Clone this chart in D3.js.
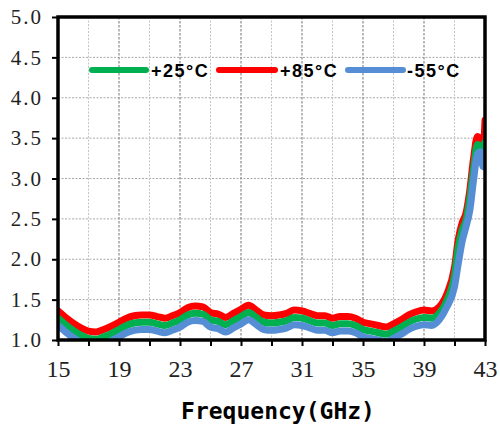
<!DOCTYPE html>
<html><head><meta charset="utf-8">
<script src="https://cdn.jsdelivr.net/npm/d3@7"></script>
<style>body{margin:0;background:#fff}svg{display:block}</style>
</head><body>
<svg id="c" width="500" height="425"></svg>
<script>
const freq = [15,15.5,16,16.5,17,17.5,18,18.5,19,19.5,20,20.5,21,21.5,22,22.5,23,23.5,24,24.5,25,25.5,26,26.5,27,27.5,28,28.5,29,29.5,30,30.5,31,31.5,32,32.5,33,33.5,34,34.5,35,35.5,36,36.5,37,37.5,38,38.5,39,39.5,40,40.5,41,41.25,41.5,41.75,42,42.25,42.5,42.7,42.85,43];
const red = [1.36,1.28,1.21,1.15,1.11,1.10,1.13,1.17,1.22,1.27,1.30,1.31,1.31,1.29,1.27,1.30,1.34,1.40,1.42,1.41,1.34,1.32,1.28,1.33,1.38,1.43,1.37,1.31,1.30,1.31,1.33,1.37,1.36,1.33,1.30,1.30,1.27,1.29,1.29,1.27,1.22,1.20,1.18,1.16,1.20,1.25,1.31,1.35,1.37,1.36,1.41,1.57,1.90,2.25,2.45,2.57,2.85,3.25,3.52,3.47,3.30,3.72];
const green = [1.27,1.19,1.12,1.06,1.02,1.01,1.04,1.08,1.13,1.18,1.21,1.22,1.22,1.20,1.18,1.21,1.25,1.31,1.33,1.32,1.25,1.23,1.19,1.24,1.29,1.34,1.28,1.22,1.21,1.22,1.24,1.28,1.27,1.24,1.21,1.21,1.18,1.20,1.20,1.18,1.13,1.11,1.09,1.07,1.11,1.16,1.22,1.26,1.28,1.27,1.33,1.49,1.80,2.15,2.36,2.48,2.75,3.12,3.42,3.40,3.22,3.45];
const blue = [1.18,1.10,1.03,0.97,0.93,0.92,0.95,0.99,1.04,1.09,1.12,1.13,1.13,1.11,1.09,1.12,1.16,1.22,1.24,1.23,1.16,1.14,1.10,1.15,1.20,1.25,1.19,1.13,1.12,1.13,1.15,1.19,1.18,1.15,1.12,1.12,1.09,1.11,1.11,1.09,1.04,1.02,1.00,0.98,1.02,1.07,1.13,1.17,1.19,1.18,1.25,1.41,1.66,1.95,2.22,2.40,2.60,2.98,3.30,3.33,3.15,3.14];
const xTicks = [15,19,23,27,31,35,39,43];
const xMinor = [17,21,25,29,33,37,41];
const yTicks = [1.0,1.5,2.0,2.5,3.0,3.5,4.0,4.5,5.0];
const seriesNames = ["+25°C","+85°C","-55°C"];
const seriesColors = ["#00b050","#ff0000","#558ed5"];

const svg = d3.select("#c");
const L=58,R=485,T=17,B=340;
const x = d3.scaleLinear().domain([15,43]).range([L,R]);
const y = d3.scaleLinear().domain([1,5]).range([B,T]);

// grid
const g = svg.append("g");
g.selectAll(".hg").data(yTicks.slice(1,-1)).join("line")
  .attr("x1",L).attr("x2",R).attr("y1",d=>y(d)).attr("y2",d=>y(d))
  .attr("stroke","#a8a8a8").attr("stroke-width",1).attr("stroke-dasharray","2,1.5");
g.selectAll(".vg").data(xMinor).join("line")
  .attr("x1",d=>x(d)).attr("x2",d=>x(d)).attr("y1",T).attr("y2",B)
  .attr("stroke","#c4c4c4").attr("stroke-width",1).attr("stroke-dasharray","2,1.5");
g.selectAll(".vG").data(xTicks.slice(1,-1)).join("line")
  .attr("x1",d=>x(d)).attr("x2",d=>x(d)).attr("y1",T).attr("y2",B)
  .attr("stroke","#8a8a8a").attr("stroke-width",1.2).attr("stroke-dasharray","2.5,1.5");

// clip
svg.append("clipPath").attr("id","pc").append("rect")
  .attr("x",L).attr("y",T).attr("width",R-L).attr("height",B-T);

const line = d3.line().x((d,i)=>x(freq[i])).y(d=>y(d)).curve(d3.curveMonotoneX);
const lines = svg.append("g").attr("clip-path","url(#pc)");
[[red,1],[green,0],[blue,2]].forEach(([arr,ci])=>{
  lines.append("path").attr("d",line(arr)).attr("fill","none")
    .attr("stroke",seriesColors[ci]).attr("stroke-width",7)
    .attr("stroke-linejoin","round").attr("stroke-linecap","round");
});

// axes
const ya = svg.append("g").attr("transform",`translate(${L},0)`)
  .call(d3.axisLeft(y).tickValues(yTicks).tickSize(6).tickPadding(10).tickFormat(d3.format(".1f")));
ya.select(".domain").remove();
ya.selectAll("line").attr("stroke","#000").attr("stroke-width",2);
ya.selectAll("text").attr("font-family","'Liberation Serif','DejaVu Serif',serif")
  .attr("font-size",21).attr("fill","#222").attr("letter-spacing","2px").attr("dx","1");

const xa = svg.append("g").attr("transform",`translate(0,${B})`)
  .call(d3.axisBottom(x).tickValues(xTicks.concat(xMinor)).tickSize(6).tickPadding(14)
    .tickFormat(d=>xTicks.includes(d)?d:""));
xa.select(".domain").remove();
xa.selectAll("line").attr("stroke","#000").attr("stroke-width",2);
xa.selectAll("text").attr("font-family","'Liberation Serif','DejaVu Serif',serif")
  .attr("font-size",24).attr("fill","#222");

// frame
svg.append("rect").attr("x",L).attr("y",T).attr("width",R-L).attr("height",B-T)
  .attr("fill","none").attr("stroke","#000").attr("stroke-width",3.5);

// axis title
svg.append("text").attr("x",(178+378)/2).attr("y",419).attr("text-anchor","middle")
  .attr("font-family","'DejaVu Sans Mono','Liberation Mono',monospace").attr("font-weight","bold")
  .attr("font-size",23).attr("fill","#000").text("Frequency(GHz)");

// legend
const legX = [[92,146,151],[219,275,280],[348,403,407]];
seriesNames.forEach((n,i)=>{
  const [a,b,t]=legX[i];
  svg.append("line").attr("x1",a).attr("x2",b).attr("y1",70).attr("y2",70)
    .attr("stroke",seriesColors[i]).attr("stroke-width",6).attr("stroke-linecap","round");
  svg.append("text").attr("x",t).attr("y",77).attr("font-family","'Liberation Sans',Arial,sans-serif")
    .attr("font-weight","bold").attr("font-size",18).attr("letter-spacing","1.5px").attr("fill","#000").text(n);
});
</script>
</body></html>
